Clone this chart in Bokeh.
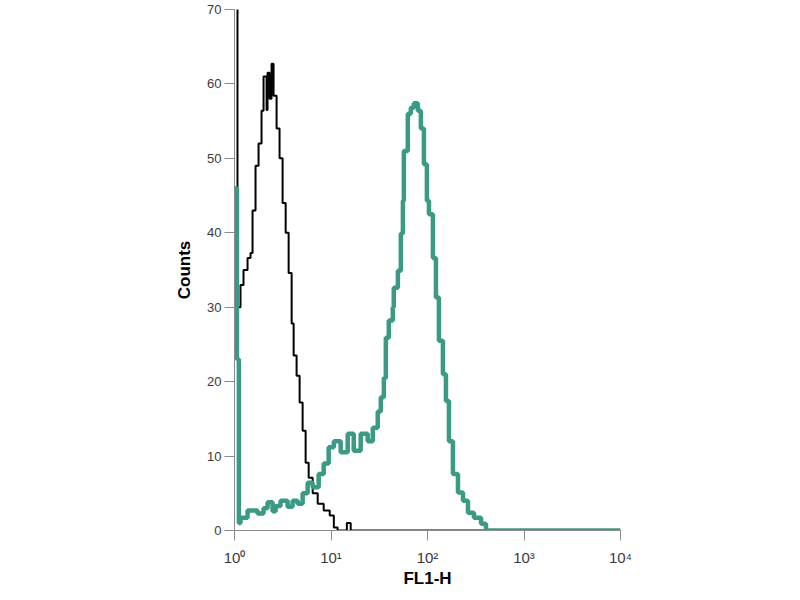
from bokeh.plotting import figure
from bokeh.models import Range1d, FixedTicker
from bokeh.embed import file_html
from bokeh.resources import INLINE

# control (black) histogram: bin start on FL1-H, counts
ctrl_x = [1.0, 1.074, 1.154, 1.24, 1.365, 1.466, 1.538, 1.652, 1.775, 1.906,
          2.0, 2.15, 2.2, 2.31, 2.42, 2.54, 2.73, 2.93, 3.15, 3.39,
          3.64, 3.91, 4.10, 4.40, 4.73, 5.08, 5.46, 5.87, 6.46, 7.28,
          8.40, 9.70, 10.7, 11.7, 14.6, 16.0, 10000.0]
ctrl_y = [80, 30, 33, 35, 36.6, 37.3, 43, 49, 52, 56.4,
          61, 56.5, 61.5, 58, 62.7, 58.4, 54, 50, 44, 40,
          34.6, 27.8, 23.5, 20.8, 17.2, 13.4, 9.1, 7.1, 5, 3.6,
          2.7, 2, 0.4, 0, 1, 0, 0]

# stained sample (teal) histogram
samp_x = [1.0, 1.06, 1.11, 1.154, 1.365, 1.733, 2.0, 2.2, 2.48, 2.67,
          3.0, 3.55, 4.0, 4.51, 5.08, 5.73, 6.46, 7.45, 8.40, 9.46,
          10.7, 12.6, 14.9, 17.2, 20.3, 24.0, 27.1, 30.5, 32.8, 35.3,
          37.0, 39.7, 43.7, 44.7, 49.3, 52.9, 55.6, 56.9, 62.5, 67.2,
          72.2, 79.4, 85.4, 91.8, 98.6, 103.5, 113.8, 122.3, 131.3, 144.5,
          155.3, 166.8, 183.5, 206.9, 233.3, 262.6, 303.2, 358.8, 403.8, 10000.0]
samp_y = [46, 23, 1, 1.7, 2.7, 2.3, 3, 3.8, 2.6, 3.3,
          4, 3.2, 4, 3.6, 5, 6.4, 5.8, 7.6, 9, 11.2,
          12, 10.5, 13, 10.7, 13, 12, 13.8, 16, 17.9, 20.5,
          25.9, 28.2, 30, 32.6, 34.9, 39.9, 44.3, 51, 56, 56.8,
          57.4, 56.4, 54, 49.2, 44.3, 42.5, 36.6, 31.3, 25.5, 21,
          17.4, 12, 7.6, 5.1, 4, 2.4, 1.7, 0.9, 0, 0]

x_ticks = [1, 10, 100, 1000, 10000]
x_tick_labels = ["10\u2070", "10\u00b9", "10\u00b2", "10\u00b3", "10\u2074"]
y_ticks = [0, 10, 20, 30, 40, 50, 60, 70]

p = figure(width=784, height=592, x_axis_type="log",
           x_range=Range1d(1, 10000), y_range=Range1d(0, 70),
           output_backend="svg", toolbar_location=None,
           min_border_left=234, min_border_right=164,
           min_border_top=9, min_border_bottom=62)
p.outline_line_color = None
p.grid.visible = False
p.background_fill_color = "white"

p.step(ctrl_x, ctrl_y, mode="after", line_color="black", line_width=2)
p.step(samp_x, samp_y, mode="after", line_color="#3a9a84", line_width=4.5)

for ax in (p.xaxis[0], p.yaxis[0]):
    ax.axis_line_color = "#8a8a8a"
    ax.major_tick_line_color = "#8a8a8a"
    ax.major_tick_in = 0
    ax.major_tick_out = 10
    ax.minor_tick_line_color = None
    ax.major_label_text_font = "Liberation Sans"
    ax.major_label_text_color = "#3a3a3a"
    ax.axis_label_text_font = "Liberation Sans"
    ax.axis_label_text_font_style = "bold"
    ax.axis_label_text_font_size = "17px"
    ax.axis_label_text_color = "black"

p.xaxis.ticker = FixedTicker(ticks=x_ticks)
p.xaxis.major_label_overrides = {float(t): l for t, l in zip(x_ticks, x_tick_labels)}
p.xaxis.major_label_text_font_size = "15px"
p.xaxis.major_label_standoff = 8
p.xaxis.axis_label = "FL1-H"
p.xaxis.axis_label_standoff = 0

p.yaxis.ticker = FixedTicker(ticks=y_ticks)
p.yaxis.major_label_text_font_size = "13px"
p.yaxis.major_label_standoff = 3
p.yaxis.axis_label = "Counts"
p.yaxis.axis_label_standoff = 10

open("out.html", "w").write(file_html(p, INLINE))
